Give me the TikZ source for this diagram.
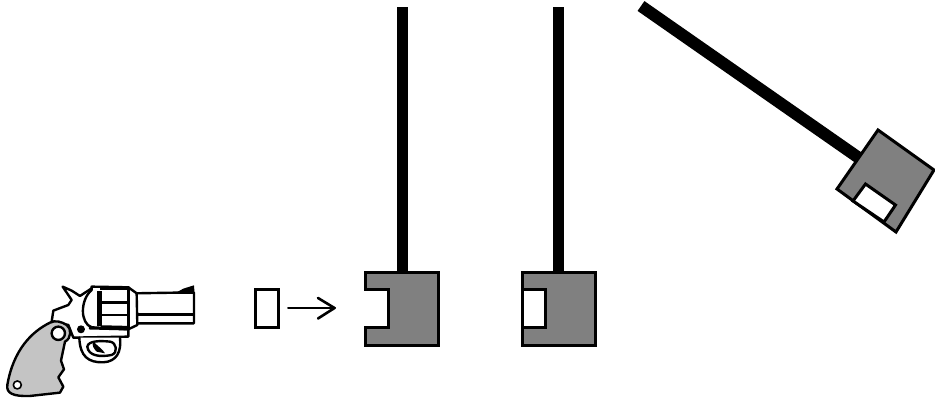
\documentclass[tikz,border=0pt]{standalone}
\usetikzlibrary{arrows.meta}
\definecolor{blockgrey}{RGB}{128,128,128}
\definecolor{gripgrey}{RGB}{196,196,196}
\tikzset{
  rod/.style={line width=11pt,black,line cap=butt},
  outline/.style={draw=black,line width=3pt,line join=miter},
  block/.style={outline,fill=blockgrey},
  slug/.style={outline,fill=white},
  gunline/.style={draw=black,line width=2.4pt,line join=round,line cap=round},
  gunthin/.style={draw=black,line width=1.6pt,line join=round,line cap=round}
}
\begin{document}
\begin{tikzpicture}[x=1pt,y=-1pt]
\useasboundingbox (0,0) rectangle (935,399);
\fill[white] (0,0) rectangle (935,399);
% rods
\draw[rod] (402.5,7) -- (402.5,273);
\draw[rod] (558.5,7) -- (558.5,273);
\draw[rod,line width=12pt] (641,6) -- (859,158);
% first block with empty notch
\draw[block] (365.5,272.5) -- (438.5,272.5) -- (438.5,345.5) -- (365.5,345.5) -- (365.5,327) -- (388,327) -- (388,289.5) -- (365.5,289.5) -- cycle;
% second block with embedded slug
\draw[block] (522,272.5) -- (595,272.5) -- (595,345.5) -- (522,345.5) -- cycle;
\draw[slug] (522,289.5) -- (545,289.5) -- (545,327) -- (522,327) -- cycle;
% swung block
\draw[block] (878,130) -- (934,170) -- (896,232) -- (837,189) -- cycle;
\draw[slug] (865.5,184) -- (895.5,205) -- (884,222) -- (853,201) -- cycle;
% flying slug and arrow
\draw[slug] (255,289.5) rectangle (278,327);
\coordinate (arrowstart) at (288,308);
\coordinate (arrowend) at (335,308);
\draw[line width=2pt,line cap=round,line join=round] (arrowstart) -- (arrowend);
\draw[line width=2.6pt,line cap=round,line join=round] (318,298) -- (334.5,308) -- (318,318.5);
% revolver, drawn in 3x coordinates of its crop
\begin{scope}[x=0.3333pt,y=-0.3333pt,shift={(0,810)}]
 % barrel
 \draw[gunline,fill=white] (405,70) -- (530,68) -- (582,68) -- (582,160) -- (405,160) -- cycle;
 \fill[black] (525,70) -- (550,56) -- (582,46) -- (584,72) -- cycle;
 \draw[black,line width=2.6pt] (410,133) -- (582,133);
 % frame
 \draw[gunline,fill=white] (188,50) -- (215,62) -- (240,78) -- (275,55) -- (270,175) -- (385,178) -- (385,200) -- (220,203) -- (205,165) -- (155,155) -- (160,122) -- (205,105) -- (215,90) -- cycle;
 % grip
 \draw[gunline,fill=gripgrey] (150,158) .. controls (95,185) and (40,240) .. (22,345) .. controls (18,370) and (40,380) .. (90,378) -- (180,368) -- (190,350) -- (175,322) -- (192,298) -- (183,272) -- (195,215) .. controls (215,205) and (215,175) .. (200,165) .. controls (185,155) and (165,150) .. (150,158) -- cycle;
 \draw[gunline,fill=white] (175,190) circle[radius=20];
 \draw[gunthin,fill=white] (52,345) circle[radius=12];
 \fill[black] (243,178) circle[radius=12];
 % cylinder
 \draw[gunline,fill=white] (275,50) -- (385,52) -- (410,70) -- (412,165) -- (385,178) -- (275,172) .. controls (240,160) and (240,90) .. (275,60) -- cycle;
 \draw[gunline] (385,52) -- (385,178);
 \fill[black] (290,62) rectangle (305,168);
 \draw[black,line width=2.8pt] (300,55) -- (385,55);
 \draw[black,line width=2.4pt] (302,97) -- (385,97);
 \draw[black,line width=2.4pt] (302,135) -- (385,135);
 \draw[black,line width=2.8pt] (302,170) -- (385,172);
 % trigger guard
 \draw[gunline,fill=white] (238,203) .. controls (240,260) and (265,278) .. (310,277) .. controls (350,275) and (365,245) .. (360,203);
 \draw[gunline] (262,230) .. controls (265,258) and (300,262) .. (335,255) .. controls (355,248) and (350,218) .. (330,215) .. controls (300,212) and (265,212) .. (262,230) -- cycle;
 \fill[black] (280,215) .. controls (290,225) and (310,240) .. (315,250) -- (290,245) .. controls (280,235) and (275,225) .. (280,215) -- cycle;
\end{scope}
\end{tikzpicture}
\end{document}
